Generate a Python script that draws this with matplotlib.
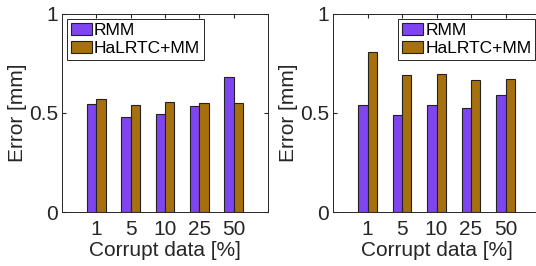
import matplotlib

matplotlib.use("Agg")
import matplotlib.pyplot as plt
import numpy as np

plt.rcParams.update({
    "font.family": ["Liberation Sans", "DejaVu Sans"],
    "font.size": 15,
})

corrupt = ["1", "5", "10", "25", "50"]
rmm_left = [0.545, 0.481, 0.496, 0.533, 0.682]
halrtc_left = [0.571, 0.538, 0.558, 0.548, 0.550]
rmm_right = [0.539, 0.491, 0.539, 0.526, 0.592]
halrtc_right = [0.808, 0.691, 0.697, 0.667, 0.674]

C_RMM = "#7f45f0"
C_HAL = "#a6700f"
AX = "#262626"


def panel(ax, rmm, hal, legend_loc):
    x = np.arange(1, len(corrupt) + 1)
    w = 0.27
    ax.bar(x - w / 2, rmm, w, color=C_RMM, edgecolor="#222222", lw=0.8,
           label="RMM")
    ax.bar(x + w / 2, hal, w, color=C_HAL, edgecolor="#222222", lw=0.8,
           label="HaLRTC+MM")
    ax.set_xlim(0, 6)
    ax.set_ylim(0, 1)
    ax.set_xticks(x, corrupt)
    ax.set_yticks([0, 0.5, 1], ["0", "0.5", "1"])
    ax.tick_params(direction="in", top=True, right=True, length=3,
                   colors=AX, labelsize=15)
    ax.tick_params(axis="x", pad=6)
    ax.tick_params(axis="y", pad=3)
    for s in ax.spines.values():
        s.set_color(AX)
        s.set_linewidth(0.7)
    ax.set_xlabel("Corrupt data [%]", color=AX, labelpad=1)
    ax.set_ylabel("Error [mm]", color=AX, labelpad=1)
    leg = ax.legend(loc=legend_loc, fontsize=12.5, fancybox=False,
                    edgecolor=AX, framealpha=1, borderaxespad=0.3,
                    handlelength=1.2, handletextpad=0.15, borderpad=0.2,
                    labelspacing=0.2)
    leg.get_frame().set_linewidth(0.7)


fig = plt.figure(figsize=(5.36, 2.66), dpi=100)
ax1 = fig.add_axes([62 / 536, 54 / 266, 206 / 536, 198 / 266])
ax2 = fig.add_axes([333 / 536, 54 / 266, 207 / 536, 198 / 266])
panel(ax1, rmm_left, halrtc_left, "upper left")
panel(ax2, rmm_right, halrtc_right, "upper right")

fig.savefig("out.png", dpi=100)
